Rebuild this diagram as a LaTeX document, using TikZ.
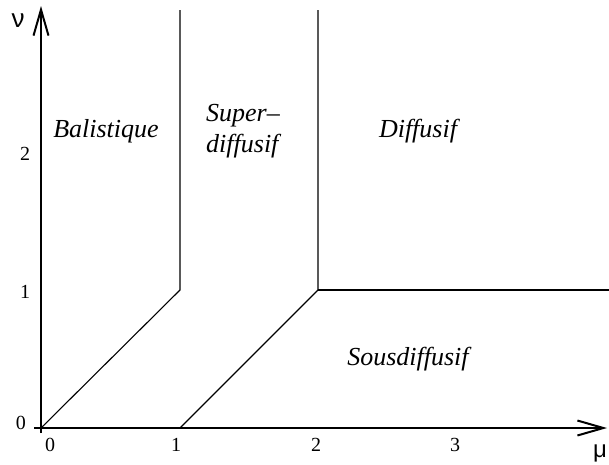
\documentclass[tikz,border=0pt]{standalone}
\usepackage{fontspec}
\setmainfont{Liberation Serif}
\newfontfamily\greekfont{Liberation Sans}
\usetikzlibrary{arrows.meta}
\begin{document}
\begin{tikzpicture}[x=1pt,y=-1pt,
  axisline/.style={line width=2.2pt,-{Straight Barb[length=26pt,width=15pt,line width=2pt]}},
  border/.style={line width=1.1pt},
  region/.style={font=\fontsize{26}{31}\selectfont\itshape,inner sep=0pt},
  ticklbl/.style={font=\fontsize{20}{24}\selectfont,inner sep=0pt}]
\useasboundingbox (0,0) rectangle (609,464);
% axes
\coordinate (xs) at (34,428);
\coordinate (xe) at (607,428);
\coordinate (ys) at (41,433);
\coordinate (ye) at (41,6);
\draw[axisline] (xs) -- (xe);
\draw[axisline] (ys) -- (ye);
% region boundaries
\coordinate (o) at (41,428);
\coordinate (a1) at (180,290);
\coordinate (a2) at (180,10);
\coordinate (b0) at (180,428);
\coordinate (b1) at (318,290);
\coordinate (b2) at (318,10);
\coordinate (c2) at (609,290);
\draw[border] (o) -- (a1) -- (a2);
\draw[border] (b0) -- (b1) -- (b2);
\draw[border] (b1) -- (c2);
% axis labels
\node[font=\greekfont\fontsize{26}{30}\selectfont,inner sep=0pt] (nu) at (18,21) {ν};
\node[font=\greekfont\fontsize{24}{28}\selectfont,inner sep=0pt] (mu) at (600,453) {μ};
% ticks labels
\node[ticklbl] (x0) at (50,445) {0};
\node[ticklbl] (x1) at (176,445) {1};
\node[ticklbl] (x2) at (316,445) {2};
\node[ticklbl] (x3) at (455,445) {3};
\node[ticklbl] (y0) at (21,423) {0};
\node[ticklbl] (y1) at (25,292) {1};
\node[ticklbl] (y2) at (25,154) {2};
% region labels
\node[region] (bal) at (106,131) {Balistique};
\node[region,align=left,anchor=west] (sup) at (206,131) {Super–\\diffusif};
\node[region] (dif) at (418,131) {Diffusif};
\node[region] (sous) at (408,359) {Sousdiffusif};
\end{tikzpicture}
\end{document}
